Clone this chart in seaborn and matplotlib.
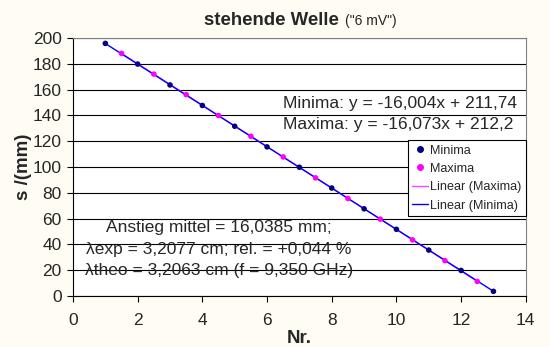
import numpy as np
import pandas as pd
import matplotlib
matplotlib.use("Agg")
import matplotlib.pyplot as plt
import seaborn as sns
from matplotlib.lines import Line2D

min_x = [1, 2, 3, 4, 5, 6, 7, 8, 9, 10, 11, 12, 13]
min_y = [195.8, 179.8, 163.6, 147.7, 131.6, 115.6, 99.8, 83.7, 67.6, 51.7, 35.6, 19.8, 3.6]
max_x = [1.5, 2.5, 3.5, 4.5, 5.5, 6.5, 7.5, 8.5, 9.5, 10.5, 11.5, 12.5]
max_y = [188.1, 172.0, 156.1, 139.9, 123.8, 107.8, 91.6, 75.6, 59.6, 43.5, 27.4, 11.3]

title_main = "stehende Welle"
title_sub = '("6 mV")'
eq_min = "Minima: y = -16,004x + 211,74"
eq_max = "Maxima: y = -16,073x + 212,2"
note = ("Anstieg mittel = 16,0385 mm;\n"
        "\u03bbexp = 3,2077 cm; rel. = +0,044 %\n"
        "\u03bbtheo = 3,2063 cm (f = 9,350 GHz)")

sns.set_theme(style="white")
plt.rcParams['font.family'] = ['Liberation Sans', 'DejaVu Sans']

dmin = pd.DataFrame({"Nr": min_x, "s": min_y})
dmax = pd.DataFrame({"Nr": max_x, "s": max_y})

fig = plt.figure(figsize=(5.5, 3.47), dpi=100, facecolor="#FFFCF3")
ax = fig.add_axes([0.1327, 0.147, 0.8233, 0.7435])
ax.set_facecolor("white")

sns.regplot(data=dmax, x="Nr", y="s", scatter=False, ci=None, truncate=True,
            line_kws=dict(color="#FF44FF", lw=1.0), ax=ax)
sns.regplot(data=dmin, x="Nr", y="s", scatter=False, ci=None, truncate=True,
            line_kws=dict(color="#0000FF", lw=1.0), ax=ax)
sns.scatterplot(data=dmin, x="Nr", y="s", color="#000080", s=16, edgecolor="none", ax=ax, zorder=3)
sns.scatterplot(data=dmax, x="Nr", y="s", color="#FF00FF", s=16, edgecolor="none", ax=ax, zorder=3)

ax.set_xlim(0, 14)
ax.set_ylim(0, 200)
ax.set_xticks(range(0, 15, 2))
ax.set_yticks(range(0, 201, 20))
ax.yaxis.grid(True, color="black", lw=0.8)
ax.set_axisbelow(True)
ax.tick_params(axis="both", which="both", direction="out", length=4, width=0.8,
               color="black", labelsize=12.5, bottom=True, left=True)
ax.tick_params(axis="x", pad=8)
ax.tick_params(axis="y", pad=4)
for side in ["left", "bottom"]:
    ax.spines[side].set_color("black")
    ax.spines[side].set_linewidth(0.8)
for side in ["top", "right"]:
    ax.spines[side].set_color("#808080")
    ax.spines[side].set_linewidth(0.8)

ax.set_xlabel("Nr.", fontsize=13.5, fontweight="bold")
ax.set_ylabel("s /(mm)", fontsize=13.5, fontweight="bold")
ax.xaxis.label.set_verticalalignment("center")
ax.yaxis.label.set_verticalalignment("center")
ax.xaxis.set_label_coords(0.5, -0.163)
ax.yaxis.set_label_coords(-0.109, 0.5)

fig.text(0.616, 0.928, title_main, fontsize=13.4, fontweight="bold", ha="right", va="baseline")
fig.text(0.627, 0.928, title_sub, fontsize=10, ha="left", va="baseline")

ax.text(6.49, 149.6, eq_min, fontsize=12.5, ha="left", va="center")
ax.text(6.49, 132.6, eq_max, fontsize=12.5, ha="left", va="center")
ax.text(4.52, 36.4, note, fontsize=12.5, ha="center", va="center", linespacing=1.58)

handles = [
    Line2D([], [], marker="o", ls="none", color="#000080", markersize=4),
    Line2D([], [], marker="o", ls="none", color="#FF00FF", markersize=4),
    Line2D([], [], color="#FF44FF", lw=1.0),
    Line2D([], [], color="#0000FF", lw=1.0),
]
labels = ["Minima", "Maxima", "Linear (Maxima)", "Linear (Minima)"]
leg = ax.legend(handles, labels, loc="upper right", bbox_to_anchor=(1.0, 0.605),
                fontsize=9.1, frameon=True, fancybox=False, framealpha=1,
                edgecolor="black", handlelength=1.27, handletextpad=0.1,
                borderpad=0.37, labelspacing=0.5, borderaxespad=0)
leg.get_frame().set_linewidth(0.8)

fig.savefig("out.png", dpi=100, facecolor=fig.get_facecolor())
